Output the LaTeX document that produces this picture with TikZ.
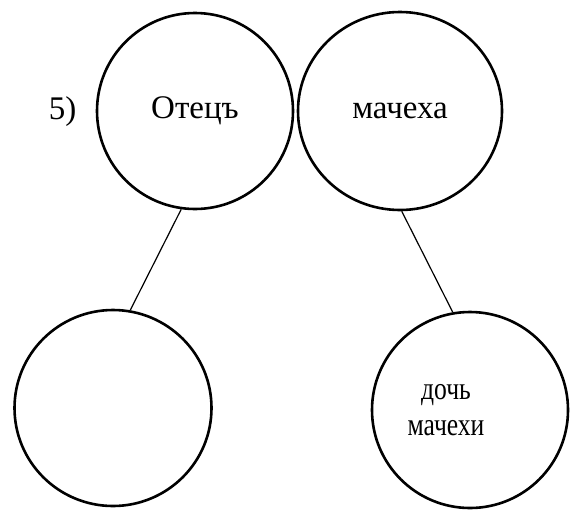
\documentclass[tikz,border=0pt]{standalone}
\usepackage{fontspec}
\setmainfont{Liberation Serif}
\newfontfamily\narrowserif[FakeStretch=0.8]{Liberation Serif}
\usepackage{tikz}
\usetikzlibrary{shapes.geometric,positioning}

\begin{document}
\begin{tikzpicture}[x=1pt,y=-1pt,
  person/.style={ellipse,draw=black,line width=2.6pt,inner sep=0pt,
                 minimum width=196pt,minimum height=196pt,align=center,
                 font=\fontsize{33}{36}\selectfont},
  tie/.style={line width=1.2pt,black}
]
  \useasboundingbox (0,0) rectangle (572,509);
  \node[person](father) at (195,111) {Отецъ};
  \node[person,minimum width=204pt,minimum height=198pt](stepmother) at (400,111) {мачеха};
  \node[person,minimum width=197pt](child) at (113,408) {};
  \node[person](stepdaughter) at (470,410) {};
  \node[align=center,font=\narrowserif\fontsize{32}{36}\selectfont](sdname) at (446,410) {дочь\\мачехи};
  \node[font=\fontsize{33}{36}\selectfont,anchor=east](num) at (80,112) {5)};
  \draw[tie](father.-98.5)--(child.80);
  \draw[tie](stepmother.-89)--(stepdaughter.100);
\end{tikzpicture}
\end{document}
